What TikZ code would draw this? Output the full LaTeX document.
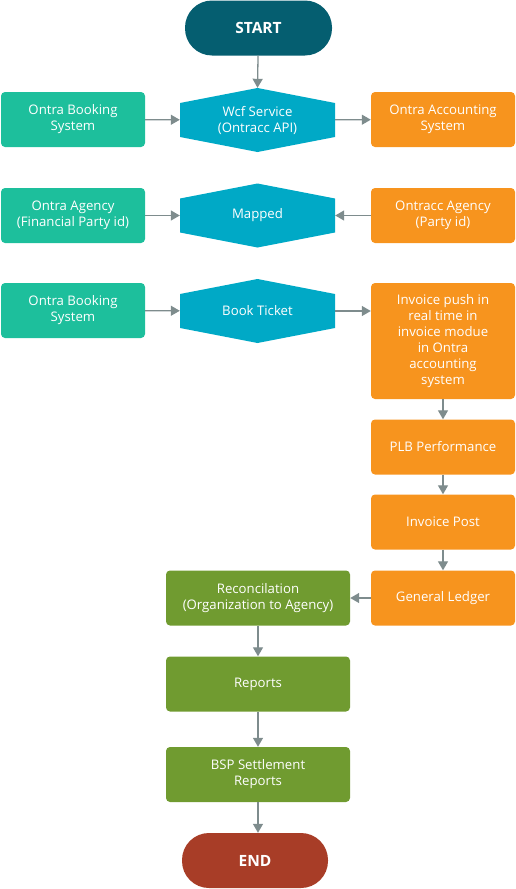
\documentclass[tikz,border=0pt]{standalone}
\usepackage{fontspec}
\setmainfont{Open Sans}
\usetikzlibrary{arrows.meta}
\definecolor{startc}{HTML}{055E70}
\definecolor{endc}{HTML}{A83D27}
\definecolor{tealc}{HTML}{1DBF9C}
\definecolor{hexc}{HTML}{00A9C6}
\definecolor{orangec}{HTML}{F7941E}
\definecolor{olivec}{HTML}{709B30}
\definecolor{arrowc}{HTML}{7E8C8D}
\tikzset{
  box/.style={rounded corners=4pt, minimum width=144pt, minimum height=55pt, inner sep=2pt},
  pill/.style={rounded corners=27pt, minimum width=147pt, minimum height=55pt, font=\fontsize{15.5}{18}\bfseries\selectfont},
  hexa/.style={minimum width=155pt, minimum height=64pt, inner sep=0pt,
    path picture={\fill[hexc] (path picture bounding box.north)
      -- ([yshift=-15pt]path picture bounding box.north east)
      -- ([yshift=15pt]path picture bounding box.south east)
      -- (path picture bounding box.south)
      -- ([yshift=15pt]path picture bounding box.south west)
      -- ([yshift=-15pt]path picture bounding box.north west) -- cycle;}},
  flow/.style={draw=arrowc, line width=1.3pt, -{Triangle[length=9pt,width=10pt]}}
}
\begin{document}
\begin{tikzpicture}[x=1pt, y=-1pt, every node/.style={text=white, align=center, font=\fontsize{13.2}{16}\selectfont}]
\useasboundingbox (0,0) rectangle (516,889);
% top
\node[pill, fill=startc] (start) at (258.5,28) {START};
\node[hexa] (wcf) at (257.5,120) {Wcf Service\\(Ontracc API)};
\node[box, fill=tealc] (booking) at (73,119.5) {Ontra Booking\\System};
\node[box, fill=orangec] (accounting) at (443,119.5) {Ontra Accounting\\System};
% mapping row
\node[box, fill=tealc] (agency) at (73,215.5) {Ontra Agency\\(Financial Party id)};
\node[hexa] (mapped) at (257.5,215.5) {Mapped};
\node[box, fill=orangec] (party) at (443,215.5) {Ontracc Agency\\(Party id)};
% ticket row
\node[box, fill=tealc] (booking2) at (73,310.5) {Ontra Booking\\System};
\node[hexa] (ticket) at (257.5,311) {Book Ticket};
\node[box, fill=orangec, minimum height=116pt] (push) at (443,341) {Invoice push in\\real time in\\invoice modue\\in Ontra\\accounting\\system};
\node[box, fill=orangec] (plb) at (443,447) {PLB Performance};
\node[box, fill=orangec] (post) at (443,522) {Invoice Post};
\node[box, fill=orangec] (ledger) at (443,598) {General Ledger};
% reports
\node[box, fill=olivec, minimum width=184pt] (recon) at (258,598) {Reconcilation\\(Organization to Agency)};
\node[box, fill=olivec, minimum width=184pt] (reports) at (258,684) {Reports};
\node[box, fill=olivec, minimum width=184pt] (bsp) at (258,774.5) {BSP Settlement\\Reports};
\node[pill, fill=endc, minimum width=146pt] (end) at (255,860.5) {END};
% connectors
\draw[flow] (start) -- (wcf.north);
\draw[flow] (booking) -- (wcf);
\draw[flow] (wcf) -- (accounting);
\draw[flow] (agency) -- (mapped);
\draw[flow] (party) -- (mapped);
\draw[flow] (booking2) -- (ticket);
\draw[flow] (ticket.east) -- (ticket.east -| push.west);
\draw[flow] (push) -- (plb);
\draw[flow] (plb) -- (post);
\draw[flow] (post) -- (ledger);
\draw[flow] (ledger) -- (recon);
\draw[flow] (recon) -- (reports);
\draw[flow] (reports) -- (bsp);
\draw[flow] (bsp.south) -- (bsp.south |- end.north);
\end{tikzpicture}
\end{document}
